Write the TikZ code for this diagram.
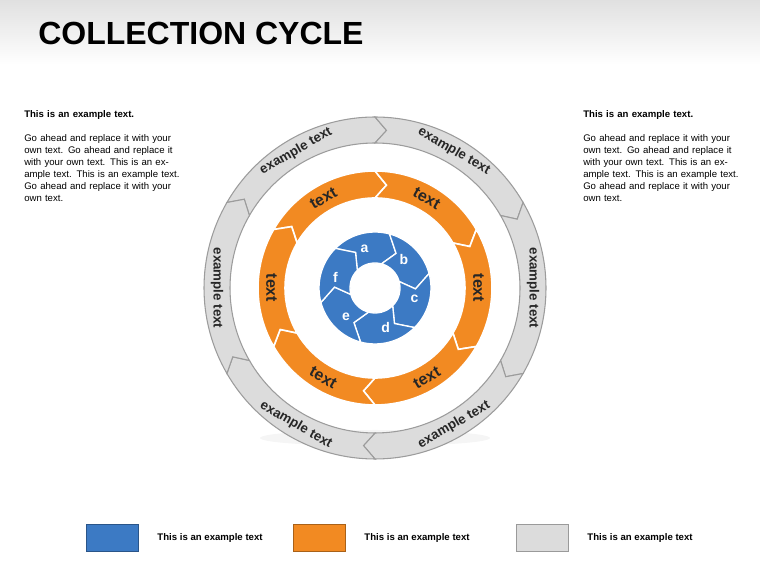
\documentclass[tikz,border=0pt]{standalone}
\usepackage{fontspec}
\setmainfont{Liberation Sans}
\usetikzlibrary{positioning,shadings}

\definecolor{cblue}{HTML}{3C7AC4}
\definecolor{corange}{HTML}{F28A22}
\definecolor{cgray}{HTML}{DCDCDC}
\definecolor{cline}{HTML}{9C9C9C}

\tikzset{
  body/.style={font=\fontsize{7.2}{9}\selectfont,align=left,text width=118pt,inner sep=0pt,anchor=north west},
  legtext/.style={font=\bfseries\fontsize{7.2}{9}\selectfont,anchor=west,inner sep=0pt},
  legbox/.style={draw=#1!70!black,fill=#1,minimum width=39pt,minimum height=20pt,inner sep=0pt,anchor=west},
  graylab/.style={font=\bfseries\fontsize{10}{11}\selectfont,text=black!85,inner sep=1pt},
  orangelab/.style={font=\bfseries\fontsize{12}{13}\selectfont,text=black!85,inner sep=1pt},
  bluelab/.style={font=\bfseries\fontsize{10.5}{12}\selectfont,text=white,inner sep=1pt}
}

% ring segment: start angle, inner radius, outer radius, style
\newcommand{\ringseg}[4]{%
  \pgfmathsetmacro{\segend}{#1-60}%
  \pgfmathsetmacro{\segmid}{(#2+#3)/2}%
  \pgfmathsetmacro{\segtip}{6*110/\segmid}%
  \path[#4] (#1:#3) arc[start angle=#1,end angle=\segend,radius=#3]
    -- (\segend-\segtip:\segmid) -- (\segend:#2)
    arc[start angle=\segend,end angle=#1,radius=#2]
    -- (#1-\segtip:\segmid) -- cycle;}

\begin{document}
\begin{tikzpicture}[x=0.75pt,y=0.75pt]
  \useasboundingbox (0,0) rectangle (760,570);
  \shade[top color=black!12,bottom color=white] (0,570) rectangle (760,505);
  \node[anchor=base west,inner sep=0pt,font=\bfseries\fontsize{24}{28}\selectfont] (title) at (38,525) {COLLECTION CYCLE};

  % side texts
  \node[body] (lhead) at (24,460) {\textbf{This is an example text.}};
  \node[body] (ltext) at (24,436) {\raggedright Go ahead and replace it with your own text. Go ahead and replace it with your own text. This is an example text. This is an example text. Go ahead and replace it with your own text.};
  \node[body] (rhead) at (583,460) {\textbf{This is an example text.}};
  \node[body] (rtext) at (583,436) {\raggedright Go ahead and replace it with your own text. Go ahead and replace it with your own text. This is an example text. This is an example text. Go ahead and replace it with your own text.};

  \begin{scope}[shift={(375,282)}]
    % faint reflection
    \fill[black!4] (0,-150) ellipse[x radius=115,y radius=8];
    \foreach \k in {0,...,5}{
      \pgfmathsetmacro{\sa}{150-60*\k}
      \ringseg{\sa}{145}{171}{draw=cline,fill=cgray,line width=0.8pt}
      \ringseg{\sa}{90}{117}{draw=white,fill=corange,line width=1.2pt}
      \pgfmathsetmacro{\sb}{135-60*\k}
      \ringseg{\sb}{25}{56}{draw=white,fill=cblue,line width=1pt}
    }
    \foreach \k/\ch in {0/a,1/b,2/c,3/d,4/e,5/f}{
      \pgfmathsetmacro{\la}{120-60*\k}
      \pgfmathsetmacro{\rt}{\la>-1 ? \la-90 : \la+90}
      \node[graylab,rotate=\rt] (glab\k) at (\la:158) {example text};
      \node[orangelab,rotate=\rt] (olab\k) at (\la:103.5) {text};
      \pgfmathsetmacro{\lb}{105-60*\k}
      \node[bluelab] (blab\k) at (\lb:41) {\ch};
    }
  \end{scope}

  % legend
  \node[legbox=cblue] (leg1) at (86,32) {};
  \node[legtext,right=14pt of leg1] (leg1t) {This is an example text};
  \node[legbox=corange] (leg2) at (293,32) {};
  \node[legtext,right=14pt of leg2] (leg2t) {This is an example text};
  \node[legbox=cgray] (leg3) at (516,32) {};
  \node[legtext,right=14pt of leg3] (leg3t) {This is an example text};
\end{tikzpicture}
\end{document}
